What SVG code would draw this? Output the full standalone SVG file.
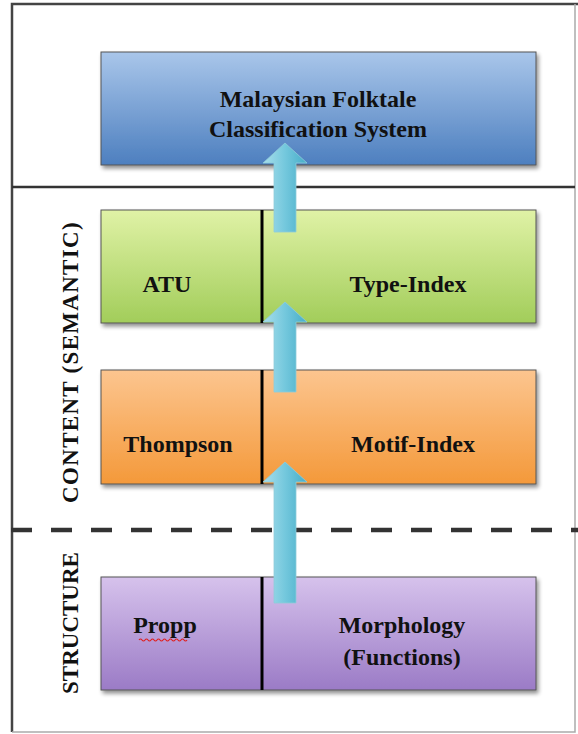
<svg xmlns="http://www.w3.org/2000/svg" width="578" height="734" viewBox="0 0 578 734">
  <style>
    .lbl { font-family: "Liberation Serif", "Times New Roman", serif; font-weight: bold; font-size: 24px; fill: #111; text-anchor: middle; }
    .side { font-family: "Liberation Serif", "Times New Roman", serif; font-weight: bold; font-size: 23px; fill: #111; text-anchor: middle; }
    .box { stroke: #555; stroke-width: 1; filter: url(#shadow); }
    .div { stroke: #000; stroke-width: 3; }
    .arrow { fill: url(#gArrow); stroke: #8fcbd9; stroke-width: 0.8; }
  </style>
  <defs>
    <linearGradient id="gBlue" x1="0" y1="0" x2="0" y2="1">
      <stop offset="0" stop-color="#a9c6ea"/>
      <stop offset="1" stop-color="#4d7fbf"/>
    </linearGradient>
    <linearGradient id="gGreen" x1="0" y1="0" x2="0" y2="1">
      <stop offset="0" stop-color="#e0f2a6"/>
      <stop offset="1" stop-color="#a2cd5a"/>
    </linearGradient>
    <linearGradient id="gOrange" x1="0" y1="0" x2="0" y2="1">
      <stop offset="0" stop-color="#fcc58f"/>
      <stop offset="1" stop-color="#f4993a"/>
    </linearGradient>
    <linearGradient id="gPurple" x1="0" y1="0" x2="0" y2="1">
      <stop offset="0" stop-color="#d6c2ec"/>
      <stop offset="1" stop-color="#9b7bc6"/>
    </linearGradient>
    <linearGradient id="gArrow" x1="0" y1="0" x2="1" y2="0">
      <stop offset="0" stop-color="#a8deeb"/>
      <stop offset="0.5" stop-color="#74c8dd"/>
      <stop offset="1" stop-color="#46adc8"/>
    </linearGradient>
    <filter id="shadow" x="-5%" y="-10%" width="115%" height="130%">
      <feGaussianBlur in="SourceAlpha" stdDeviation="2"/>
      <feOffset dx="2" dy="3" result="b"/>
      <feComponentTransfer><feFuncA type="linear" slope="0.45"/></feComponentTransfer>
      <feMerge><feMergeNode/><feMergeNode in="SourceGraphic"/></feMerge>
    </filter>
  </defs>

  <rect width="578" height="734" fill="#ffffff"/>

  <!-- outer frame and layer separators -->
  <g id="frame" fill="none" stroke="#444">
    <path d="M12,732 V4 H578" stroke-width="2.5"/>
    <path d="M12,732 H575 V4" stroke="#aaa" stroke-width="1.5"/>
    <line x1="12" y1="187" x2="575" y2="187" stroke="#333" stroke-width="2.5"/>
    <line x1="11" y1="530" x2="578" y2="530" stroke="#333" stroke-width="4.5" stroke-dasharray="21 19"/>
  </g>

  <!-- layer labels -->
  <g id="layer-content">
    <text class="side" letter-spacing="1.3" transform="translate(78,362) rotate(-90)">CONTENT (SEMANTIC)</text>
  </g>
  <g id="layer-structure">
    <text class="side" transform="translate(78,623) rotate(-90)">STRUCTURE</text>
  </g>

  <!-- nodes -->
  <g id="malaysian-system">
    <rect class="box" x="101" y="52" width="435" height="113" fill="url(#gBlue)"/>
    <text class="lbl" x="318" y="107">Malaysian Folktale</text>
    <text class="lbl" x="318" y="137">Classification System</text>
  </g>

  <g id="atu-type-index">
    <rect class="box" x="101" y="210" width="435" height="113" fill="url(#gGreen)"/>
    <line class="div" x1="262" y1="210" x2="262" y2="323"/>
    <text class="lbl" x="167" y="292">ATU</text>
    <text class="lbl" x="408" y="292">Type-Index</text>
  </g>

  <g id="thompson-motif-index">
    <rect class="box" x="101" y="370" width="435" height="114" fill="url(#gOrange)"/>
    <line class="div" x1="262" y1="370" x2="262" y2="484"/>
    <text class="lbl" x="178" y="452">Thompson</text>
    <text class="lbl" x="413" y="452">Motif-Index</text>
  </g>

  <g id="propp-morphology">
    <rect class="box" x="101" y="577" width="435" height="113" fill="url(#gPurple)"/>
    <line class="div" x1="262" y1="577" x2="262" y2="690"/>
    <text class="lbl" x="165" y="633">Propp</text>
    <path d="M139,640 q1.5,-2 3,0 t3,0 t3,0 t3,0 t3,0 t3,0 t3,0 t3,0 t3,0 t3,0 t3,0 t3,0 t3,0 t3,0 t3,0 t3,0" fill="none" stroke="#e02020" stroke-width="1.2"/>
    <text class="lbl" x="402" y="633">Morphology</text>
    <text class="lbl" x="402" y="665">(Functions)</text>
  </g>

  <!-- connectors -->
  <g id="connectors">
    <path class="arrow" d="M274,232 V163 H263 L285,143 L307,163 H296 V232 Z"/>
    <path class="arrow" d="M274,392 V322 H263 L285,302 L307,322 H296 V392 Z"/>
    <path class="arrow" d="M274,603 V482 H263 L285,462 L307,482 H296 V603 Z"/>
  </g>
</svg>
